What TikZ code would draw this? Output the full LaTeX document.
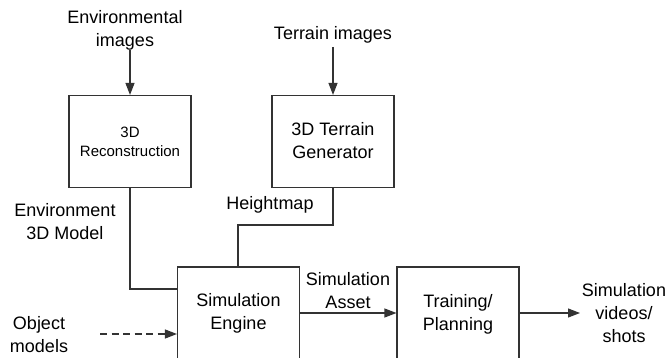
\documentclass[tikz,border=0pt]{standalone}
\usepackage{fontspec}
\setmainfont{Liberation Sans}
\usetikzlibrary{arrows.meta}
\begin{document}
\begin{tikzpicture}[x=1pt,y=-1pt,
  block/.style={draw=black!80,line width=1.1pt,minimum width=122pt,minimum height=92pt,inner sep=0pt},
  lbl/.style={align=center,inner sep=0pt,font=\fontsize{18}{23}\selectfont},
  small/.style={align=center,inner sep=0pt,font=\fontsize{15}{19}\selectfont},
  wire/.style={draw=black!80,line width=1.1pt},
  flow/.style={wire,-{Triangle[length=12pt,width=9pt]}},
  dflow/.style={flow,dash pattern=on 7pt off 4.5pt}]
\useasboundingbox (0,0) rectangle (668,358);

% processing blocks
\node[block] (recon) at (130,141.5) {};
\node[small] at (recon.center) {3D\\Reconstruction};
\node[block] (terrain) at (333,141.5) {};
\node[lbl] at (333,141) {3D Terrain\\Generator};
\node[block,minimum height=94pt] (engine) at (238.5,314) {};
\node[lbl] at (238.5,313) {Simulation\\Engine};
\node[block,minimum height=94pt] (train) at (458,314) {};
\node[lbl] at (458,314) {Training/\\Planning};

% inputs and outputs
\node[lbl] (envimg) at (125,30) {Environmental\\images};
\node[lbl] (terimg) at (333,35) {Terrain images};
\node[lbl] (objm) at (39,335) {Object\\models};
\node[lbl] (out) at (624,313) {Simulation\\videos/\\shots};

% connector labels
\node[lbl] (envlbl) at (65,222) {Environment\\3D Model};
\node[lbl] (hmlbl) at (270,205) {Heightmap};
\node[lbl] (assetlbl) at (348,291) {Simulation\\Asset};

% connectors
\coordinate (envtop) at (130,50);
\coordinate (tertop) at (333,47);
\coordinate (objend) at (100,334);
\coordinate (outend) at (580,313);
\draw[flow] (envtop) -- (recon.north);
\draw[flow] (tertop) -- (terrain.north);
\draw[wire] (recon.south) |- (engine.west |- 0,289);
\draw[wire] (terrain.south) -- (333,225) -| (engine.north -| 238,0);
\draw[dflow] (objend) -- (engine.west |- objend);
\draw[flow] (engine.east |- 0,313) -- (train.west |- 0,313);
\draw[flow] (train.east |- 0,313) -- (outend);
\end{tikzpicture}
\end{document}
